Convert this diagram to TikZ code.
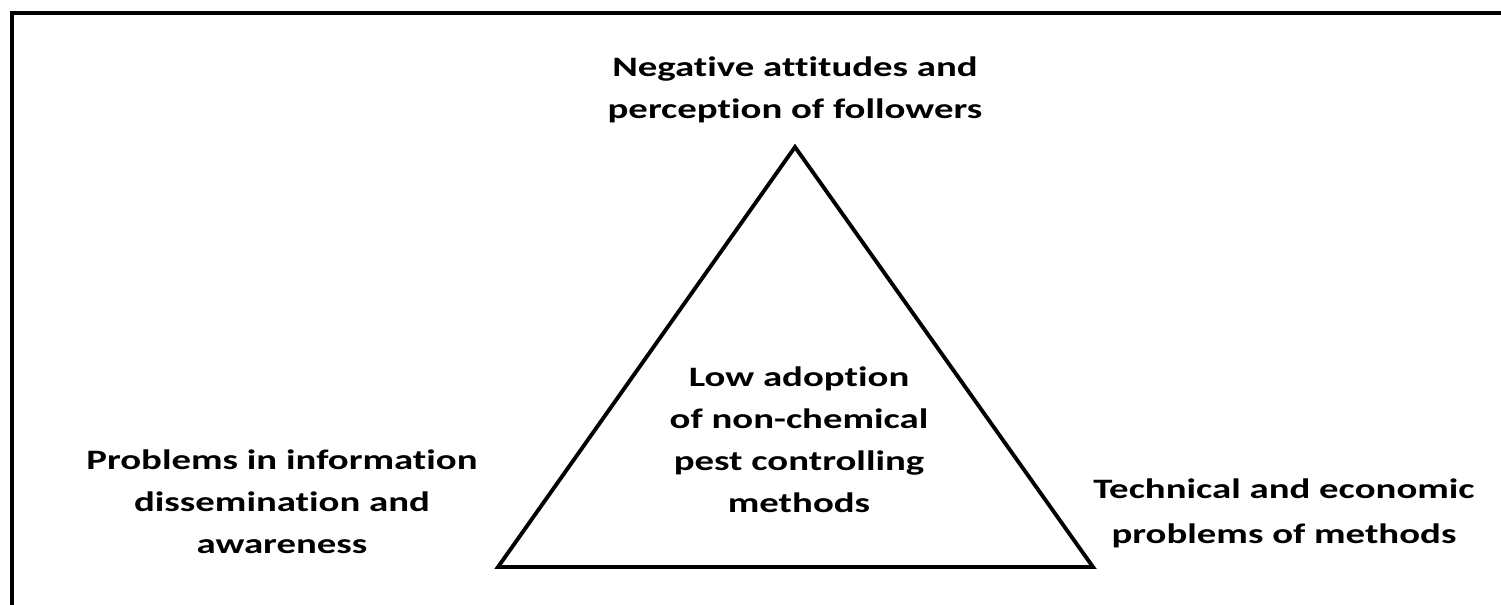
\documentclass[tikz,border=0pt]{standalone}
\usepackage{fontspec}
\setmainfont{Carlito}[FakeStretch=1.38, Ligatures=NoCommon]
\usepackage{tikz}
\tikzset{
label/.style = {align=center, inner sep=0pt, anchor=base, font=\bfseries\fontsize{16}{23.9}\selectfont},
frame/.style = {line width=2.3pt},
tri/.style = {line width=2.2pt, line join=miter},
}

\begin{document}
\begin{tikzpicture}
    \useasboundingbox (0,0) rectangle (30.02,12.08);

    % outer frame (only top and left edges are visible)
    \coordinate (frameBL) at (0.24,-0.5);
    \coordinate (frameTL) at (0.24,11.82);
    \coordinate (frameTR) at (30.6,11.82);
    \draw[frame] (frameBL) -- (frameTL) -- (frameTR);

    % triangle
    \coordinate (apex) at (15.9,9.14);
    \coordinate (cornL) at (9.96,0.74);
    \coordinate (cornR) at (21.86,0.74);
    \draw[tri] (apex) -- (cornL) -- (cornR) -- cycle;

    % base anchor = baseline of the last line
    \node[label] (attit) at (15.9,9.72) {Negative attitudes and\\perception of followers};
    \node[label] (adopt) at (15.98,1.84) {Low adoption\\of non-chemical\\pest controlling\\methods};
    \node[label] (inform) at (5.64,1.02) {Problems in information\\dissemination and\\awareness};
    \node[label, font=\bfseries\fontsize{16}{25.5}\selectfont] (techn) at (25.68,1.22) {Technical and economic\\problems of methods};

\end{tikzpicture}
\end{document}
